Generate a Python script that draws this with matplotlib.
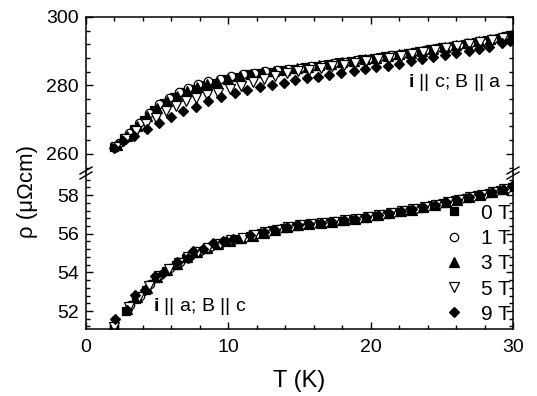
import matplotlib
matplotlib.use("Agg")
import matplotlib.pyplot as plt
from matplotlib.ticker import MultipleLocator
from matplotlib.lines import Line2D

plt.rcParams['font.family'] = ['Liberation Sans', 'DejaVu Sans']
plt.rcParams['mathtext.fontset'] = 'custom'
plt.rcParams['mathtext.rm'] = 'Liberation Sans'
plt.rcParams['mathtext.bf'] = 'Liberation Sans:bold'

fields = ["0 T", "1 T", "3 T", "5 T", "9 T"]

# ---- top panel: i || c ; B || a ----
T_top_0 = [2.0, 2.7, 3.4, 4.1, 4.8, 5.5, 6.2, 6.9, 7.6, 8.3, 9.0, 9.8, 10.6, 11.4, 12.2, 13.0, 13.8, 14.6, 15.4,
           16.2, 17.0, 17.8, 18.6, 19.4, 20.2, 21.0, 21.8, 22.6, 23.4, 24.2, 25.0, 25.8, 26.6, 27.4, 28.2, 29.0, 29.8]
rho_top_0 = [262.0, 264.5, 267.3, 270.0, 272.8, 274.9, 276.6, 278.0, 279.0, 280.0, 280.8, 281.8, 282.6, 283.2,
             283.7, 284.0, 284.4, 284.9, 285.3, 285.8, 286.2, 286.7, 287.1, 287.6, 288.0, 288.5, 289.0, 289.5,
             290.0, 290.5, 291.1, 291.6, 292.2, 292.8, 293.4, 294.0, 294.6]
T_top_1 = [2.3, 3.0, 3.7, 4.4, 5.1, 5.8, 6.5, 7.2, 7.9, 8.6, 9.4, 10.2, 11.0, 11.8, 12.6, 13.4, 14.2, 15.0, 15.8,
           16.6, 17.4, 18.2, 19.0, 19.8, 20.6, 21.4, 22.2, 23.0, 23.8, 24.6, 25.4, 26.2, 27.0, 27.8, 28.6, 29.4]
rho_top_1 = [263.3, 266.0, 268.9, 272.0, 274.5, 276.4, 278.0, 279.3, 280.3, 281.2, 282.0, 282.7, 283.3, 283.7,
             284.1, 284.4, 284.8, 285.2, 285.6, 286.0, 286.5, 286.9, 287.4, 287.8, 288.3, 288.8, 289.2, 289.7,
             290.3, 290.8, 291.3, 291.9, 292.5, 293.1, 293.7, 294.3]
T_top_3 = [2.2, 2.9, 3.6, 4.3, 5.0, 5.7, 6.4, 7.1, 7.8, 8.5, 9.2, 10.0, 10.8, 11.6, 12.4, 13.2, 14.0, 14.8, 15.6,
           16.4, 17.2, 18.0, 18.8, 19.6, 20.4, 21.2, 22.0, 22.8, 23.6, 24.4, 25.2, 26.0, 26.8, 27.6, 28.4, 29.2, 29.9]
rho_top_3 = [262.7, 265.2, 268.0, 271.0, 273.4, 275.3, 277.0, 278.3, 279.4, 280.3, 281.1, 282.0, 282.7, 283.3,
             283.8, 284.1, 284.5, 285.0, 285.4, 285.9, 286.3, 286.8, 287.2, 287.7, 288.1, 288.6, 289.1, 289.6,
             290.1, 290.6, 291.2, 291.7, 292.3, 292.9, 293.5, 294.1, 294.7]
T_top_5 = [2.1, 2.8, 3.5, 4.2, 4.9, 5.6, 6.3, 7.0, 7.7, 8.5, 9.3, 10.1, 10.9, 11.7, 12.5, 13.3, 14.1, 14.9, 15.7,
           16.5, 17.3, 18.1, 18.9, 19.7, 20.5, 21.3, 22.1, 22.9, 23.7, 24.5, 25.3, 26.1, 26.9, 27.7, 28.5, 29.3]
rho_top_5 = [262.0, 264.3, 266.6, 268.8, 270.6, 272.4, 274.1, 275.4, 276.2, 277.1, 277.9, 278.9, 279.9, 280.9,
             281.9, 282.8, 283.5, 284.1, 284.6, 285.1, 285.6, 286.1, 286.6, 287.1, 287.6, 288.1, 288.7, 289.2,
             289.8, 290.3, 290.9, 291.5, 292.1, 292.7, 293.3, 293.9]
T_top_9 = [2.0, 2.6, 3.4, 4.3, 5.15, 6.0, 6.8, 7.7, 8.6, 9.5, 10.5, 11.3, 12.2, 13.05, 13.9, 14.7, 15.5, 16.3,
           17.1, 17.95, 18.8, 19.6, 20.4, 21.2, 22.0, 22.8, 23.6, 24.4, 25.2, 26.0, 26.9, 27.6, 28.3, 29.2, 29.8]
rho_top_9 = [261.7, 263.7, 265.2, 267.4, 269.1, 270.8, 272.4, 273.8, 275.3, 276.6, 277.8, 278.7, 279.6, 280.2,
             280.8, 281.5, 282.1, 282.6, 283.1, 283.7, 284.3, 284.9, 285.4, 285.8, 286.4, 287.0, 287.6, 288.2,
             288.8, 289.4, 290.1, 290.7, 291.3, 292.3, 292.9]

# ---- bottom panel: i || a ; B || c ----
T_bot_0 = [2.0, 2.8, 3.5, 4.2, 4.9, 5.6, 6.3, 7.0, 7.7, 8.4, 9.1, 9.9, 10.7, 11.5, 12.3, 13.1, 13.9, 14.7, 15.5,
           16.3, 17.1, 17.9, 18.7, 19.5, 20.3, 21.1, 21.9, 22.7, 23.5, 24.3, 25.1, 25.9, 26.7, 27.5, 28.3, 29.1, 29.9]
rho_bot_0 = [51.1, 52.0, 52.6, 53.1, 53.7, 54.05, 54.4, 54.75, 55.0, 55.2, 55.4, 55.6, 55.75, 55.9, 56.05, 56.2,
             56.3, 56.4, 56.5, 56.55, 56.6, 56.65, 56.75, 56.8, 56.9, 57.0, 57.1, 57.25, 57.35, 57.5, 57.6, 57.75,
             57.85, 58.0, 58.1, 58.25, 58.4]
T_bot_1 = [2.0, 3.1, 3.8, 4.5, 5.2, 5.9, 6.6, 7.3, 8.0, 8.7, 9.5, 10.3, 11.1, 11.9, 12.7, 13.5, 14.3, 15.1, 15.9,
           16.7, 17.5, 18.3, 19.1, 19.9, 20.7, 21.5, 22.3, 23.1, 23.9, 24.7, 25.5, 26.3, 27.1, 27.9, 28.7, 29.5]
rho_bot_1 = [51.2, 52.3, 52.8, 53.4, 53.85, 54.2, 54.55, 54.85, 55.1, 55.3, 55.5, 55.65, 55.8, 55.95, 56.1, 56.25,
             56.35, 56.45, 56.5, 56.55, 56.65, 56.7, 56.75, 56.85, 56.95, 57.05, 57.15, 57.3, 57.4, 57.55, 57.65,
             57.8, 57.9, 58.0, 58.15, 58.3]
T_bot_3 = [2.0, 2.9, 3.6, 4.3, 5.0, 5.7, 6.4, 7.1, 7.8, 8.5, 9.3, 10.1, 10.9, 11.7, 12.5, 13.3, 14.1, 14.9, 15.7,
           16.5, 17.3, 18.1, 18.9, 19.7, 20.5, 21.3, 22.1, 22.9, 23.7, 24.5, 25.3, 26.1, 26.9, 27.7, 28.5, 29.3]
rho_bot_3 = [51.3, 52.1, 52.7, 53.2, 53.75, 54.1, 54.45, 54.8, 55.05, 55.25, 55.45, 55.6, 55.8, 55.9, 56.05, 56.2,
             56.35, 56.45, 56.5, 56.55, 56.6, 56.7, 56.75, 56.85, 56.95, 57.05, 57.15, 57.25, 57.4, 57.5, 57.65,
             57.75, 57.9, 58.0, 58.15, 58.3]
T_bot_5 = [2.0, 3.0, 3.7, 4.4, 5.1, 5.8, 6.5, 7.2, 7.9, 8.6, 9.4, 10.2, 11.0, 11.8, 12.6, 13.4, 14.2, 15.0, 15.8,
           16.6, 17.4, 18.2, 19.0, 19.8, 20.6, 21.4, 22.2, 23.0, 23.8, 24.6, 25.4, 26.2, 27.0, 27.8, 28.6, 29.4]
rho_bot_5 = [51.15, 52.2, 52.75, 53.3, 53.8, 54.15, 54.5, 54.8, 55.05, 55.25, 55.45, 55.65, 55.8, 55.95, 56.1,
             56.2, 56.35, 56.45, 56.5, 56.55, 56.6, 56.7, 56.75, 56.85, 56.95, 57.05, 57.15, 57.3, 57.4, 57.5,
             57.65, 57.75, 57.9, 58.0, 58.15, 58.3]
T_bot_9 = [2.04, 2.86, 3.44, 4.15, 4.85, 5.4, 6.4, 7.2, 7.5, 8.24, 8.95, 9.65, 10.35, 11.5, 12.5, 13.3, 14.1,
           14.9, 15.7, 16.5, 17.3, 18.1, 18.9, 19.7, 20.5, 21.3, 22.1, 22.9, 23.7, 24.5, 25.3, 26.1, 26.9, 27.7,
           28.5, 29.3, 29.9]
rho_bot_9 = [51.6, 52.05, 52.85, 53.1, 53.8, 53.95, 54.55, 54.75, 55.1, 55.2, 55.5, 55.6, 55.75, 55.92, 56.1,
             56.2, 56.35, 56.45, 56.5, 56.55, 56.6, 56.7, 56.75, 56.85, 56.95, 57.05, 57.15, 57.3, 57.4, 57.5,
             57.65, 57.75, 57.9, 58.0, 58.15, 58.3, 58.45]

top_T = [T_top_0, T_top_1, T_top_3, T_top_5, T_top_9]
top_rho = [rho_top_0, rho_top_1, rho_top_3, rho_top_5, rho_top_9]
bot_T = [T_bot_0, T_bot_1, T_bot_3, T_bot_5, T_bot_9]
bot_rho = [rho_bot_0, rho_bot_1, rho_bot_3, rho_bot_5, rho_bot_9]

styles = [dict(marker='s', ms=5.5, mfc='black'),
          dict(marker='o', ms=6.0, mfc='white'),
          dict(marker='^', ms=6.5, mfc='black'),
          dict(marker='v', ms=6.5, mfc='white'),
          dict(marker='D', ms=5.2, mfc='black')]

W, H = 537, 396
fig = plt.figure(figsize=(W / 100, H / 100), dpi=100)
left, right = 86 / W, 513 / W
y_top, y_mid, y_bot = 1 - 17 / H, 1 - 173 / H, 1 - 329 / H
ax1 = fig.add_axes([left, y_mid, right - left, y_top - y_mid])
ax2 = fig.add_axes([left, y_bot, right - left, y_mid - y_bot], sharex=ax1)

for Ts, rs, st, lab in zip(top_T, top_rho, styles, fields):
    ax1.plot(Ts, rs, ls='none', mec='black', mew=0.9, **st, label=lab)
for Ts, rs, st, lab in zip(bot_T, bot_rho, styles, fields):
    ax2.plot(Ts, rs, ls='none', mec='black', mew=0.9, **st, label=lab)

ax1.set_xlim(0, 30)
ax1.set_ylim(254.4, 300)
ax2.set_ylim(51.07, 59.14)

fs = 14
for ax in (ax1, ax2):
    for s in ax.spines.values():
        s.set_linewidth(1.1)
    ax.tick_params(which='both', direction='in', top=True, right=True, width=1.0, labelsize=fs)
    ax.tick_params(which='major', length=5)
    ax.tick_params(which='minor', length=3)
    ax.tick_params(axis='y', pad=5)
    ax.tick_params(axis='x', pad=7)
    ax.xaxis.set_major_locator(MultipleLocator(10))
    ax.xaxis.set_minor_locator(MultipleLocator(2))

ax1.spines['bottom'].set_visible(False)
ax2.spines['top'].set_visible(False)
ax1.tick_params(which='both', bottom=False, labelbottom=False)
ax2.tick_params(which='both', top=False)

ax1.yaxis.set_major_locator(MultipleLocator(20))
ax1.yaxis.set_minor_locator(MultipleLocator(4))
ax2.yaxis.set_major_locator(MultipleLocator(2))
ax2.yaxis.set_minor_locator(MultipleLocator(0.4))

ax1.text(0.975, 0.577, r"$\mathbf{i}$ || c; B || a", transform=ax1.transAxes, ha='right', va='center', fontsize=fs)
ax2.text(0.156, 0.147, r"$\mathbf{i}$ || a; B || c", transform=ax2.transAxes, ha='left', va='center', fontsize=fs)

ax2.legend(loc='lower right', bbox_to_anchor=(1.015, -0.02), frameon=False, fontsize=15,
           handletextpad=0.8, labelspacing=0.3, borderaxespad=0.0, handlelength=1.0, markerscale=1.0)

ax2.set_xlabel("T (K)", fontsize=17, labelpad=10)
fig.text(28 / W, 1 - 192 / H, "ρ (μΩcm)", rotation=90, ha='center', va='center', fontsize=16)

# axis-break marks
for xp in (86, 513):
    for dy in (-2.5, 2.5):
        yc = 173 + dy
        fig.add_artist(Line2D([(xp - 6) / W, (xp + 6) / W], [1 - (yc + 3.5) / H, 1 - (yc - 3.5) / H],
                              transform=fig.transFigure, color='black', lw=1.0))

fig.savefig("out.png", dpi=100)
